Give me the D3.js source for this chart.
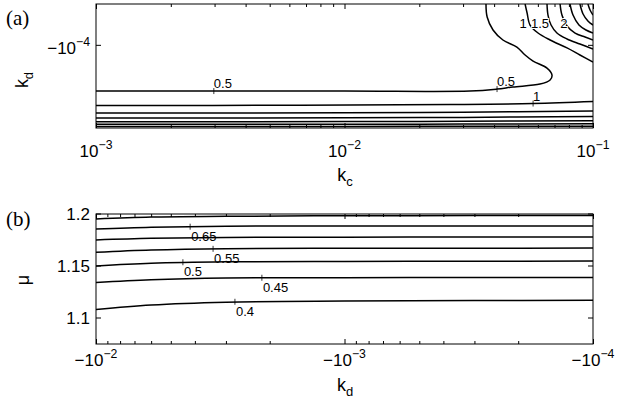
<!DOCTYPE html>
<html>
<head>
<meta charset="utf-8">
<script src="https://cdn.jsdelivr.net/npm/d3@7"></script>
<style>
  body { margin: 0; background: #fff; }
  svg { font-family: "Liberation Sans", Arial, sans-serif; }
</style>
</head>
<body>
<svg id="chart" width="620" height="403"></svg>
<script>
// ---- panel (a): contour lines, points are [kc, kd] ----
const a05 = [[1e-3, -2.77e-4], [1e-2, -2.77e-4], [0.032, -2.77e-4], [0.0411, -2.65e-4], [0.0476, -2.53e-4],
  [0.0612, -2.37e-4], [0.0672, -2.165e-4], [0.0684, -1.94e-4], [0.0653, -1.66e-4], [0.0574, -1.42e-4],
  [0.0533, -1.24e-4], [0.0494, -1.04e-4], [0.0434, -8.88e-5], [0.0396, -7.11e-5], [0.0375, -5.32e-5], [0.0371, -3.98e-5]];
const a1Low = [[1e-3, -3.82e-4], [6.62e-3, -3.80e-4], [0.0266, -3.74e-4], [0.0574, -3.66e-4], [0.1, -3.50e-4]];
const a1High = [[0.0533, -3.98e-5], [0.0543, -4.87e-5], [0.0558, -6.36e-5], [0.0601, -7.60e-5], [0.0672, -8.88e-5],
  [0.0786, -1.06e-4], [0.0886, -1.24e-4], [0.1, -1.45e-4]];
const a15Low = [[1e-3, -4.52e-4], [1e-2, -4.50e-4], [0.03, -4.44e-4], [0.1, -4.32e-4]];
const a15High = [[0.0653, -3.98e-5], [0.0659, -5.09e-5], [0.0678, -6.36e-5], [0.0716, -7.60e-5], [0.0786, -8.68e-5],
  [0.0886, -9.71e-5], [0.1, -1.085e-4]];
const a2Low = [[1e-3, -5.05e-4], [1e-2, -5.03e-4], [0.03, -4.98e-4], [0.1, -4.88e-4]];
const a2High = [[0.0737, -3.98e-5], [0.0750, -5.09e-5], [0.0786, -6.50e-5], [0.0847, -7.60e-5], [0.0929, -8.31e-5], [0.1, -8.88e-5]];
const a25Low = [[1e-3, -5.48e-4], [1e-2, -5.47e-4], [0.03, -5.43e-4], [0.1, -5.36e-4]];
const a25High = [[0.0808, -3.98e-5], [0.0831, -5.09e-5], [0.0878, -6.36e-5], [0.0937, -7.11e-5], [0.1, -7.60e-5]];
const a3Low = [[1e-3, -5.81e-4], [1e-2, -5.80e-4], [0.03, -5.78e-4], [0.1, -5.73e-4]];
const a3High = [[0.0886, -3.98e-5], [0.0912, -4.97e-5], [0.0954, -5.81e-5], [0.1, -6.36e-5]];
const a35Low = [[1e-3, -6.10e-4], [1e-2, -6.09e-4], [0.03, -6.08e-4], [0.1, -6.06e-4]];
const a35High = [[0.0954, -3.98e-5], [0.0973, -4.55e-5], [0.1, -5.09e-5]];

// contour labels with a "+" mark on the line: [kc, kd, text]
const labelsA = [[2.98e-3, -2.77e-4, "0.5"], [0.0411, -2.65e-4, "0.5"], [0.0574, -3.66e-4, "1"]];
// labels written inline near the top right
const inlineA = [[0.0523, -6.08e-5, "1"], [0.0612, -6.08e-5, "1.5"], [0.0764, -6.08e-5, "2"]];

// ---- panel (b): mu against kd for several contour levels ----
const kdB = [-1e-2, -6e-3, -3e-3, -1e-3, -3e-4, -1e-4];
const mu070 = [1.1952, 1.1971, 1.1978, 1.1983, 1.1985, 1.1986];
const mu065 = [1.1856, 1.1873, 1.1883, 1.1885, 1.1885, 1.1885];
const mu060 = [1.1750, 1.1766, 1.1775, 1.1777, 1.1779, 1.1779];
const mu055 = [1.1632, 1.1654, 1.1667, 1.1670, 1.1671, 1.1673];
const mu050 = [1.1500, 1.1526, 1.1540, 1.1544, 1.1546, 1.1548];
const mu045 = [1.1341, 1.1368, 1.1385, 1.1388, 1.1389, 1.1389];
const mu040 = [1.1082, 1.1125, 1.1152, 1.1163, 1.1168, 1.1170];
const labelsB = [[-4.18e-3, 1.1878, "0.65"], [-3.38e-3, 1.1665, "0.55"], [-4.47e-3, 1.1536, "0.5"],
  [-2.15e-3, 1.1387, "0.45"], [-2.76e-3, 1.1156, "0.4"]];

// axis ticks
const kcMajor = [1e-3, 1e-2, 1e-1];
const kdMajorA = [-1e-4];
const kdMajorB = [-1e-2, -1e-3, -1e-4];
const muTicks = [1.1, 1.15, 1.2];

const svg = d3.select("#chart");
const L = 96, R = 593;
const pa = {top: 4, bottom: 128};
const pb = {top: 214, bottom: 344};

const xA = d3.scaleLog().domain([1e-3, 1e-1]).range([L, R]);
const yA = d3.scaleLog().domain([Math.pow(10, -3.2), Math.pow(10, -4.4)]).range([pa.bottom, pa.top]); // on -kd
const xB = d3.scaleLog().domain([1e-2, 1e-4]).range([L, R]); // on -kd
const yB = d3.scaleLinear().domain([1.075, 1.2]).range([pb.bottom, pb.top]);

const isDecade = v => {
  const l = Math.log10(Math.abs(v));
  return Math.abs(l - Math.round(l)) < 1e-9;
};

const defs = svg.append("defs");
defs.append("clipPath").attr("id", "clipA").append("rect")
  .attr("x", L).attr("y", pa.top).attr("width", R - L).attr("height", pa.bottom - pa.top);
defs.append("clipPath").attr("id", "clipB").append("rect")
  .attr("x", L).attr("y", pb.top).attr("width", R - L).attr("height", pb.bottom - pb.top);

// power-of-ten label, e.g. 10^-3 or -10^-4
function powText(sel, v, size) {
  const e = Math.round(Math.log10(Math.abs(v)));
  sel.append("tspan").text((v < 0 ? "\u2212" : "") + "10");
  sel.append("tspan").attr("dy", -8).attr("font-size", size * 0.72)
    .text((e < 0 ? "\u2212" : "") + Math.abs(e));
}

function logXAxis(x, top, bottom) {
  const vals = x.ticks();
  svg.append("g").attr("transform", `translate(0,${bottom})`)
    .call(d3.axisBottom(x).tickValues(vals).tickFormat(""))
    .call(g => g.select(".domain").remove())
    .call(g => g.selectAll(".tick line").attr("y2", d => isDecade(d) ? -5 : -3).attr("stroke", "#000"));
  svg.append("g").attr("transform", `translate(0,${top})`)
    .call(d3.axisTop(x).tickValues(vals).tickFormat(""))
    .call(g => g.select(".domain").remove())
    .call(g => g.selectAll(".tick line").attr("y2", d => isDecade(d) ? 5 : 3).attr("stroke", "#000"));
}

function frame(top, bottom) {
  svg.append("rect").attr("x", L).attr("y", top).attr("width", R - L).attr("height", bottom - top)
    .attr("fill", "none").attr("stroke", "#000").attr("stroke-width", 1);
}

// ================= panel (a) =================
const lineA = d3.line().x(d => xA(d[0])).y(d => yA(-d[1])).curve(d3.curveCatmullRom.alpha(0.5));
const gA = svg.append("g").attr("clip-path", "url(#clipA)");
[a05, a1Low, a1High, a15Low, a15High, a2Low, a2High, a25Low, a25High, a3Low, a3High, a35Low, a35High]
  .forEach(c => {
    gA.append("path").attr("d", lineA(c)).attr("fill", "none")
      .attr("stroke", "#000").attr("stroke-width", 1.5);
  });

labelsA.forEach(([kc, kd, t]) => {
  const px = xA(kc), py = yA(-kd);
  svg.append("line").attr("x1", px).attr("x2", px).attr("y1", py - 3).attr("y2", py + 3)
    .attr("stroke", "#000").attr("stroke-width", 0.8);
  svg.append("text").attr("x", px).attr("y", py - 3).attr("font-size", 13).text(t);
});
inlineA.forEach(([kc, kd, t]) => {
  svg.append("text").attr("x", xA(kc)).attr("y", yA(-kd)).attr("dy", "0.35em")
    .attr("text-anchor", "middle").attr("font-size", 13)
    .attr("stroke", "#fff").attr("stroke-width", 2).attr("paint-order", "stroke").text(t);
});

logXAxis(xA, pa.top, pa.bottom);
kdMajorA.forEach(v => {
  const py = yA(-v);
  svg.append("line").attr("x1", L).attr("x2", L + 5).attr("y1", py).attr("y2", py).attr("stroke", "#000");
  svg.append("line").attr("x1", R - 5).attr("x2", R).attr("y1", py).attr("y2", py).attr("stroke", "#000");
  svg.append("text").attr("x", L - 6).attr("y", py + 9).attr("text-anchor", "end")
    .attr("font-size", 17).call(powText, v, 17);
});
kcMajor.forEach(v => {
  svg.append("text").attr("x", xA(v)).attr("y", pa.bottom + 29).attr("text-anchor", "middle")
    .attr("font-size", 17).call(powText, v, 17);
});
frame(pa.top, pa.bottom);

svg.append("text").attr("x", 345).attr("y", 181).attr("text-anchor", "middle").attr("font-size", 18)
  .call(s => { s.append("tspan").text("k"); s.append("tspan").attr("dy", 5).attr("font-size", 13).text("c"); });
svg.append("text").attr("transform", "translate(28,80) rotate(-90)").attr("text-anchor", "middle").attr("font-size", 18)
  .call(s => { s.append("tspan").text("k"); s.append("tspan").attr("dy", 5).attr("font-size", 13).text("d"); });
svg.append("text").attr("x", 6).attr("y", 25).attr("font-family", "'Liberation Serif', serif")
  .attr("font-size", 21).text("(a)");

// ================= panel (b) =================
const lineB = d3.line().x(d => xB(-d[0])).y(d => yB(d[1])).curve(d3.curveCatmullRom.alpha(0.5));
const gB = svg.append("g").attr("clip-path", "url(#clipB)");
[mu070, mu065, mu060, mu055, mu050, mu045, mu040].forEach(mu => {
  gB.append("path").attr("d", lineB(kdB.map((k, i) => [k, mu[i]]))).attr("fill", "none")
    .attr("stroke", "#000").attr("stroke-width", 1.5);
});
labelsB.forEach(([kd, mu, t]) => {
  const px = xB(-kd), py = yB(mu);
  svg.append("line").attr("x1", px).attr("x2", px).attr("y1", py - 3).attr("y2", py + 3)
    .attr("stroke", "#000").attr("stroke-width", 0.8);
  svg.append("text").attr("x", px + 1).attr("y", py + 14).attr("font-size", 13).text(t);
});

logXAxis(xB, pb.top, pb.bottom);
muTicks.forEach(v => {
  const py = yB(v);
  svg.append("line").attr("x1", L).attr("x2", L + 5).attr("y1", py).attr("y2", py).attr("stroke", "#000");
  svg.append("line").attr("x1", R - 5).attr("x2", R).attr("y1", py).attr("y2", py).attr("stroke", "#000");
  svg.append("text").attr("x", L - 6).attr("y", py + 6).attr("text-anchor", "end")
    .attr("font-size", 17).text(v);
});
kdMajorB.forEach(v => {
  svg.append("text").attr("x", xB(-v)).attr("y", pb.bottom + 22).attr("text-anchor", "middle")
    .attr("font-size", 17).call(powText, v, 17);
});
frame(pb.top, pb.bottom);

svg.append("text").attr("x", 345).attr("y", 391).attr("text-anchor", "middle").attr("font-size", 18)
  .call(s => { s.append("tspan").text("k"); s.append("tspan").attr("dy", 5).attr("font-size", 13).text("d"); });
svg.append("text").attr("transform", "translate(29,280) rotate(-90)").attr("text-anchor", "middle").attr("font-size", 18)
  .text("\u03bc");
svg.append("text").attr("x", 6).attr("y", 226).attr("font-family", "'Liberation Serif', serif")
  .attr("font-size", 21).text("(b)");
</script>
</body>
</html>
